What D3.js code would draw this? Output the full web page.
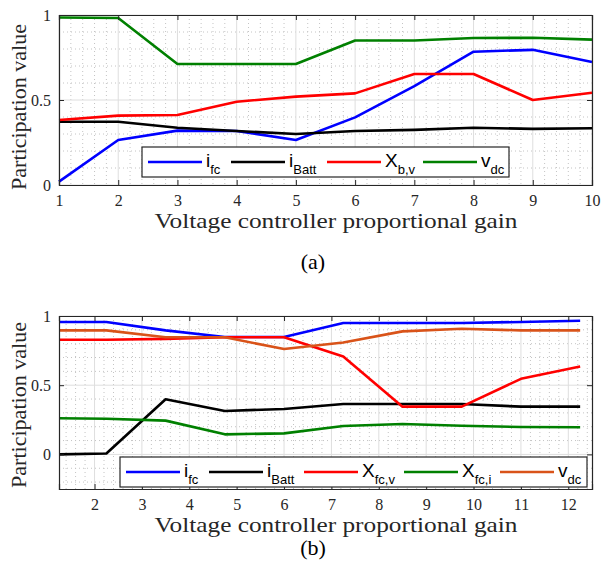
<!DOCTYPE html>
<html>
<head>
<meta charset="utf-8">
<script src="https://cdn.jsdelivr.net/npm/d3@7/dist/d3.min.js"></script>
<style>
  body { margin: 0; background: #fff; }
  svg { display: block; }
</style>
</head>
<body>
<svg id="chart" width="602" height="572"></svg>
<script>
// ---- Panel (a) data ----
const gainA = [1, 2, 3, 4, 5, 6, 7, 8, 9, 10];
const ifcA   = [0.02, 0.265, 0.32, 0.318, 0.265, 0.398, 0.582, 0.784, 0.795, 0.724];
const iBattA = [0.372, 0.372, 0.337, 0.318, 0.30, 0.318, 0.324, 0.337, 0.33, 0.334];
const XbvA   = [0.382, 0.408, 0.412, 0.49, 0.52, 0.539, 0.653, 0.653, 0.50, 0.543];
const vdcA   = [0.985, 0.982, 0.712, 0.712, 0.712, 0.85, 0.85, 0.865, 0.866, 0.855];
const xTicksA = [1, 2, 3, 4, 5, 6, 7, 8, 9, 10];

// ---- Panel (b) data ----
const gainB = [1.25, 2.25, 3.5, 4.75, 6, 7.25, 8.5, 9.75, 11, 12.25];
const ifcB   = [0.957, 0.957, 0.896, 0.848, 0.848, 0.949, 0.949, 0.949, 0.957, 0.966];
const iBattB = [0.0, 0.007, 0.398, 0.314, 0.328, 0.364, 0.364, 0.364, 0.345, 0.345];
const XfcvB  = [0.828, 0.828, 0.835, 0.846, 0.846, 0.707, 0.345, 0.345, 0.546, 0.635];
const XfciB  = [0.261, 0.258, 0.244, 0.145, 0.152, 0.205, 0.22, 0.207, 0.198, 0.196];
const vdcB   = [0.896, 0.896, 0.846, 0.846, 0.761, 0.809, 0.889, 0.908, 0.896, 0.896];
const xTicksB = [2, 3, 4, 5, 6, 7, 8, 9, 10, 11, 12];

const yTicks = [0, 0.5, 1];
const yTickLabels = ["0", "0.5", "1"];

const svg = d3.select("#chart");
const serif = "'Liberation Serif', 'DejaVu Serif', serif";
const sans = "'Liberation Sans', Arial, sans-serif";
const axisColor = "#262626";

function drawPanel(cfg) {
  const x = d3.scaleLinear().domain(cfg.xDomain).range([59, 592]);
  const y = d3.scaleLinear().domain(cfg.yDomain).range([cfg.bottom, cfg.top]);
  const g = svg.append("g");

  // minor grid (dotted)
  const xMinor = d3.range(Math.ceil(cfg.xDomain[0] * 5), Math.floor(cfg.xDomain[1] * 5) + 1).map(v => v / 5)
    .filter(v => Math.abs(v - Math.round(v)) > 1e-6);
  const yMinor = d3.range(Math.ceil(cfg.yDomain[0] * 10), Math.floor(cfg.yDomain[1] * 10) + 1).map(v => v / 10)
    .filter(v => Math.abs(v * 2 - Math.round(v * 2)) > 1e-6);
  g.selectAll(".xminor").data(xMinor).join("line")
    .attr("x1", d => x(d)).attr("x2", d => x(d))
    .attr("y1", cfg.top).attr("y2", cfg.bottom)
    .attr("stroke", "#c4c4c4").attr("stroke-width", 1).attr("stroke-dasharray", "1,3");
  g.selectAll(".yminor").data(yMinor).join("line")
    .attr("x1", 59).attr("x2", 592)
    .attr("y1", d => y(d)).attr("y2", d => y(d))
    .attr("stroke", "#c4c4c4").attr("stroke-width", 1).attr("stroke-dasharray", "1,3");

  // major grid
  g.selectAll(".xmajor").data(cfg.xTicks).join("line")
    .attr("x1", d => x(d)).attr("x2", d => x(d))
    .attr("y1", cfg.top).attr("y2", cfg.bottom)
    .attr("stroke", "#dedede").attr("stroke-width", 1);
  g.selectAll(".ymajor").data(yTicks).join("line")
    .attr("x1", 59).attr("x2", 592)
    .attr("y1", d => y(d)).attr("y2", d => y(d))
    .attr("stroke", "#dedede").attr("stroke-width", 1);

  // series
  const line = d3.line().x(d => x(d[0])).y(d => y(d[1]));
  cfg.series.forEach(s => {
    g.append("path")
      .datum(cfg.xs.map((v, i) => [v, s.values[i]]))
      .attr("d", line)
      .attr("fill", "none")
      .attr("stroke", s.color)
      .attr("stroke-width", 2.6)
      .attr("stroke-linejoin", "round");
  });

  // axes with inward ticks
  const xAxisB = d3.axisBottom(x).tickValues(cfg.xTicks).tickSize(-5).tickPadding(10).tickFormat(d3.format("d"));
  const xAxisT = d3.axisTop(x).tickValues(cfg.xTicks).tickSize(-5).tickFormat("");
  const yAxisL = d3.axisLeft(y).tickValues(yTicks).tickSize(-5).tickPadding(8).tickFormat((d, i) => yTickLabels[i]);
  const yAxisR = d3.axisRight(y).tickValues(yTicks).tickSize(-5).tickFormat("");
  const styleAxis = a => {
    a.selectAll("path").attr("stroke", axisColor).attr("stroke-width", 1.2);
    a.selectAll("line").attr("stroke", axisColor);
    a.selectAll("text").attr("font-family", serif).attr("font-size", 16).attr("fill", "#262626");
  };
  g.append("g").attr("transform", `translate(0,${cfg.bottom})`).call(xAxisB).call(styleAxis);
  g.append("g").attr("transform", `translate(0,${cfg.top})`).call(xAxisT).call(styleAxis);
  g.append("g").attr("transform", `translate(59,0)`).call(yAxisL).call(styleAxis);
  g.append("g").attr("transform", `translate(592,0)`).call(yAxisR).call(styleAxis);

  // legend
  const lg = g.append("g");
  lg.append("rect")
    .attr("x", cfg.legend.x).attr("y", cfg.legend.y)
    .attr("width", cfg.legend.w).attr("height", cfg.legend.h)
    .attr("fill", "#fff").attr("stroke", axisColor).attr("stroke-width", 1.2);
  const ly = cfg.legend.y + cfg.legend.h / 2;
  cfg.series.forEach((s, i) => {
    const lx = cfg.legend.items[i];
    lg.append("line")
      .attr("x1", lx).attr("x2", lx + 54)
      .attr("y1", ly).attr("y2", ly)
      .attr("stroke", s.color).attr("stroke-width", 2.6);
    const t = lg.append("text")
      .attr("x", lx + 58).attr("y", ly + 5)
      .attr("font-family", sans).attr("font-size", 19).attr("fill", "#000");
    t.append("tspan").text(s.main);
    t.append("tspan").attr("dy", 7).attr("font-size", 13).text(s.sub);
  });

  // labels
  g.append("text")
    .attr("x", 336).attr("y", cfg.bottom + 43)
    .attr("text-anchor", "middle")
    .attr("font-family", serif).attr("font-size", 22).attr("fill", "#262626")
    .attr("textLength", 363).attr("lengthAdjust", "spacingAndGlyphs")
    .text("Voltage controller proportional gain");
  g.append("text")
    .attr("transform", `translate(26,${cfg.yLabelCenter}) rotate(-90)`)
    .attr("text-anchor", "middle")
    .attr("font-family", serif).attr("font-size", 22).attr("fill", "#262626")
    .attr("textLength", 166).attr("lengthAdjust", "spacingAndGlyphs")
    .text("Participation value");
  g.append("text")
    .attr("x", 313).attr("y", cfg.captionY)
    .attr("text-anchor", "middle")
    .attr("font-family", serif).attr("font-size", 22).attr("fill", "#000")
    .text(cfg.caption);
}

drawPanel({
  xDomain: [1, 10], yDomain: [0, 1], top: 15, bottom: 185,
  xs: gainA, xTicks: xTicksA,
  series: [
    { values: ifcA, color: "#0000ff", main: "i", sub: "fc" },
    { values: iBattA, color: "#000000", main: "i", sub: "Batt" },
    { values: XbvA, color: "#ff0000", main: "X", sub: "b,v" },
    { values: vdcA, color: "#008000", main: "v", sub: "dc" }
  ],
  legend: { x: 142, y: 147, w: 367, h: 30, items: [148, 231, 327, 423] },
  yLabelCenter: 107, caption: "(a)", captionY: 269
});

drawPanel({
  xDomain: [1.25, 12.5], yDomain: [-0.25, 1], top: 316, bottom: 489,
  xs: gainB, xTicks: xTicksB,
  series: [
    { values: ifcB, color: "#0000ff", main: "i", sub: "fc" },
    { values: iBattB, color: "#000000", main: "i", sub: "Batt" },
    { values: XfcvB, color: "#ff0000", main: "X", sub: "fc,v" },
    { values: XfciB, color: "#008000", main: "X", sub: "fc,i" },
    { values: vdcB, color: "#d95319", main: "v", sub: "dc" }
  ],
  legend: { x: 120, y: 457, w: 467, h: 30, items: [126, 209, 304, 404, 500] },
  yLabelCenter: 405, caption: "(b)", captionY: 555
});
</script>
</body>
</html>
